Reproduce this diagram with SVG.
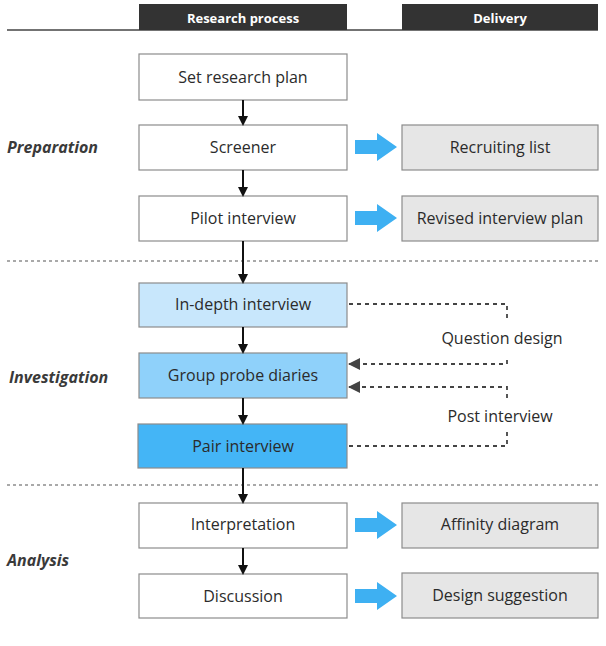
<svg xmlns="http://www.w3.org/2000/svg" width="606" height="646" viewBox="0 0 606 646">
<style>
text{font-family:"Open Sans","Liberation Sans",sans-serif;fill:#2b2b2b}
.hd{fill:#333333}
.hdt{fill:#ffffff;font-size:13px;font-weight:bold;text-anchor:middle}
.box{stroke:#8c8c8c;stroke-width:1.2}
.w{fill:#ffffff}
.g{fill:#e6e6e6}
.t{font-size:16px;text-anchor:middle;dominant-baseline:central}
.side{font-size:16px;font-weight:bold;font-style:italic;fill:#3a3a3a}
.flow{stroke:#111;stroke-width:2;fill:none;marker-end:url(#ah)}
.dash{stroke:#444;stroke-width:1.8;stroke-dasharray:4 4;fill:none}
.sep{stroke:#555;stroke-width:1.2;stroke-dasharray:3 3}
.blue{fill:#3eb0f2}
</style>
<defs>
<marker id="ah" markerWidth="10" markerHeight="10" refX="8" refY="5" orient="auto" markerUnits="userSpaceOnUse">
<path d="M0,0 L10,5 L0,10 Z" fill="#111"/>
</marker>
<marker id="dh" markerWidth="12" markerHeight="12" refX="11" refY="6" orient="auto" markerUnits="userSpaceOnUse">
<path d="M0,0 L12,6 L0,12 Z" fill="#444"/>
</marker>
<path id="barrow" d="M0,-7 H22 V-14 L42,0 L22,14 V7 H0 Z"/>
</defs>

<g id="header">
<line x1="7" y1="30" x2="598" y2="30" stroke="#444" stroke-width="1.5"/>
<rect class="hd" x="139" y="4" width="208" height="26"/>
<text class="hdt" x="243" y="23">Research process</text>
<rect class="hd" x="402" y="4" width="196" height="26"/>
<text class="hdt" x="500" y="23">Delivery</text>
</g>

<g id="separators">
<line class="sep" x1="7" y1="261" x2="598" y2="261"/>
<line class="sep" x1="7" y1="485" x2="598" y2="485"/>
</g>

<g id="labels">
<text class="side" x="7" y="153">Preparation</text>
<text class="side" x="9" y="383">Investigation</text>
<text class="side" x="7" y="566">Analysis</text>
</g>

<g id="n-plan"><rect class="box w" x="139" y="54" width="208" height="46"/><text class="t" x="243" y="77">Set research plan</text></g>
<g id="n-screener"><rect class="box w" x="139" y="125" width="208" height="45"/><text class="t" x="243" y="147">Screener</text></g>
<g id="n-pilot"><rect class="box w" x="139" y="196" width="208" height="45"/><text class="t" x="243" y="218">Pilot interview</text></g>
<g id="n-indepth"><rect class="box" fill="#c8e7fc" x="139" y="283" width="208" height="44"/><text class="t" x="243" y="304">In-depth interview</text></g>
<g id="n-group"><rect class="box" fill="#8fd1fa" x="139" y="353" width="208" height="45"/><text class="t" x="243" y="375">Group probe diaries</text></g>
<g id="n-pair"><rect class="box" fill="#44b5f6" x="138" y="424" width="209" height="44"/><text class="t" x="243" y="446">Pair interview</text></g>
<g id="n-interp"><rect class="box w" x="139" y="503" width="208" height="45"/><text class="t" x="243" y="524">Interpretation</text></g>
<g id="n-discuss"><rect class="box w" x="139" y="574" width="208" height="44"/><text class="t" x="243" y="596">Discussion</text></g>

<g id="d-recruit"><rect class="box g" x="402" y="125" width="196" height="45"/><text class="t" x="500" y="147">Recruiting list</text></g>
<g id="d-revised"><rect class="box g" x="402" y="196" width="196" height="45"/><text class="t" x="500" y="218">Revised interview plan</text></g>
<g id="d-affinity"><rect class="box g" x="402" y="503" width="196" height="45"/><text class="t" x="500" y="524">Affinity diagram</text></g>
<g id="d-design"><rect class="box g" x="402" y="573" width="196" height="45"/><text class="t" x="500" y="595">Design suggestion</text></g>

<g id="connectors">
<line class="flow" x1="243" y1="100" x2="243" y2="124"/>
<line class="flow" x1="243" y1="170" x2="243" y2="195"/>
<line class="flow" x1="243" y1="241" x2="243" y2="282"/>
<line class="flow" x1="243" y1="327" x2="243" y2="352"/>
<line class="flow" x1="243" y1="398" x2="243" y2="423"/>
<line class="flow" x1="243" y1="468" x2="243" y2="502"/>
<line class="flow" x1="243" y1="548" x2="243" y2="573"/>
<use href="#barrow" class="blue" x="355" y="147"/>
<use href="#barrow" class="blue" x="355" y="218"/>
<use href="#barrow" class="blue" x="355" y="525"/>
<use href="#barrow" class="blue" x="355" y="596"/>
<path class="dash" d="M349,304 H507 V322"/>
<path class="dash" d="M507,360 V364 H349" marker-end="url(#dh)"/>
<path class="dash" d="M507,398 V387 H349" marker-end="url(#dh)"/>
<path class="dash" d="M349,446 H507 V430"/>
<text class="t" x="502" y="338">Question design</text>
<text class="t" x="500" y="416">Post interview</text>
</g>
</svg>
